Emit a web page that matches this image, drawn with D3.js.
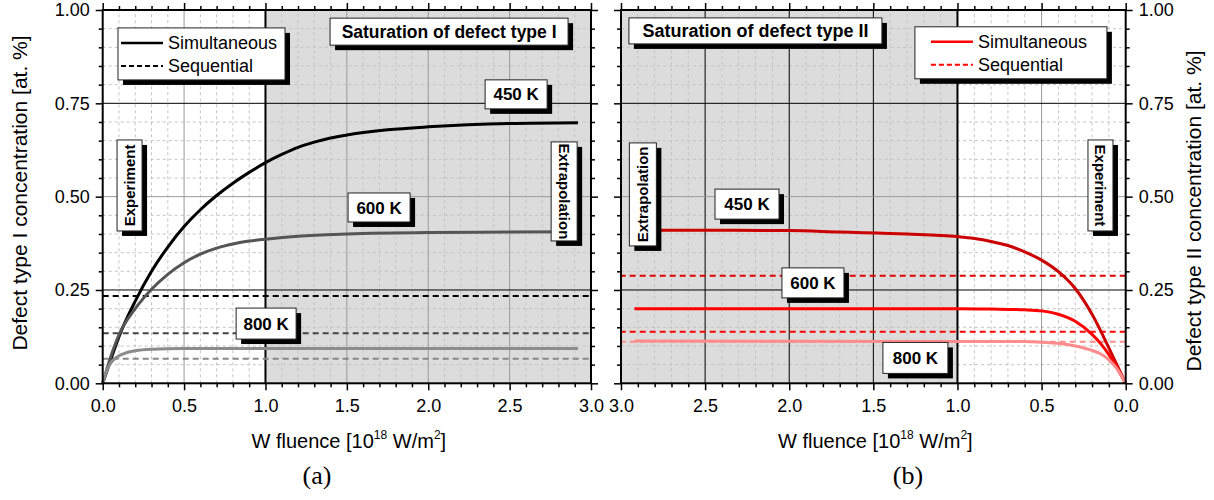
<!DOCTYPE html>
<html>
<head>
<meta charset="utf-8">
<script src="https://cdn.jsdelivr.net/npm/d3@7"></script>
<style>
  body { margin: 0; background: #fff; }
  text { font-family: "Liberation Sans", Arial, sans-serif; fill: #000; }
</style>
</head>
<body>
<div id="chart"></div>
<script>

// temperatures of the three runs
var temps = ["450 K", "600 K", "800 K"];

// panel (a): defect type I, simultaneous exposure  [fluence, concentration]
var simI_450 = [[0, 0], [0.05, 0.064], [0.1, 0.125], [0.2, 0.22], [0.3, 0.3], [0.4, 0.365], [0.5, 0.42],
  [0.6, 0.465], [0.7, 0.503], [0.8, 0.536], [0.9, 0.565], [1.0, 0.591], [1.1, 0.613], [1.2, 0.632],
  [1.3, 0.646], [1.4, 0.657], [1.5, 0.665], [1.75, 0.679], [2.0, 0.687], [2.5, 0.696], [2.92, 0.698]];
var simI_600 = [[0, 0], [0.05, 0.072], [0.1, 0.13], [0.2, 0.2], [0.3, 0.252], [0.4, 0.292], [0.5, 0.323],
  [0.6, 0.346], [0.7, 0.362], [0.8, 0.373], [0.9, 0.381], [1.0, 0.386], [1.2, 0.394], [1.5, 0.4],
  [2.0, 0.404], [2.5, 0.405], [2.92, 0.406]];
var simI_800 = [[0, 0], [0.02, 0.028], [0.045, 0.052], [0.08, 0.068], [0.127, 0.079], [0.2, 0.087],
  [0.3, 0.091], [0.5, 0.093], [0.8, 0.093], [2.92, 0.093]];
// sequential exposure: constant levels (450, 600, 800 K)
var seqI = [0.234, 0.134, 0.066];

// panel (b): defect type II, simultaneous exposure
var simII_450 = [[2.92, 0.41], [2.5, 0.41], [2.0, 0.409], [1.7, 0.405], [1.3, 0.4], [1.0, 0.393], [0.9, 0.388],
  [0.8, 0.38], [0.7, 0.369], [0.6, 0.352], [0.5, 0.33], [0.4, 0.299], [0.3, 0.254], [0.2, 0.185],
  [0.1, 0.095], [0.05, 0.047], [0, 0]];
var simII_600 = [[2.92, 0.2], [2.0, 0.2], [1.0, 0.2], [0.8, 0.199], [0.6, 0.197], [0.5, 0.194], [0.4, 0.185],
  [0.3, 0.166], [0.2, 0.131], [0.15, 0.107], [0.1, 0.077], [0.05, 0.04], [0, 0]];
var simII_800 = [[2.92, 0.113], [1.0, 0.112], [0.6, 0.112], [0.5, 0.11], [0.4, 0.107], [0.3, 0.1],
  [0.2, 0.088], [0.15, 0.079], [0.1, 0.063], [0.05, 0.038], [0, 0]];
var seqII = [0.288, 0.138, 0.111];

// axis ticks
var xTicks = [0, 0.5, 1.0, 1.5, 2.0, 2.5, 3.0];
var yTicks = [0, 0.25, 0.5, 0.75, 1.0];
var xMinor = d3.range(1, 30).filter(function (i) { return i % 5 != 0; }).map(function (i) { return i / 10; });
var yMinor = d3.range(1, 20).filter(function (i) { return i % 5 != 0; }).map(function (i) { return i / 20; });

var svg = d3.select("#chart")
  .append("svg")
  .attr("width", 1214)
  .attr("height", 500);

function shadowBox(g, cx, cy, w, h) {
  g.append("rect")
    .attr("x", cx - w / 2 + 5).attr("y", cy - h / 2 + 5)
    .attr("width", w).attr("height", h)
    .attr("fill", "#000");
  g.append("rect")
    .attr("x", cx - w / 2).attr("y", cy - h / 2)
    .attr("width", w).attr("height", h)
    .attr("fill", "#fff")
    .attr("stroke", "#222")
    .attr("stroke-width", 1);
}

function panel(o) {
  var x = d3.scaleLinear().domain(o.xDomain).range(o.xRange);
  var y = d3.scaleLinear().domain([0, 1]).range([383.3, 10]);
  var g = svg.append("g");
  var x0 = o.xRange[0], x1 = o.xRange[1];

  // shaded extrapolation region (fluence 1.0 - 3.0)
  g.append("rect")
    .attr("x", Math.min(x(1), x(3)))
    .attr("width", Math.abs(x(3) - x(1)))
    .attr("y", y(1))
    .attr("height", y(0) - y(1))
    .attr("fill", "#dcdcdc");

  // minor grid
  g.selectAll(".mgx").data(xMinor).enter().append("line")
    .attr("x1", x).attr("x2", x).attr("y1", y(0)).attr("y2", y(1))
    .attr("stroke", "#c4c4c4").attr("stroke-width", 1).attr("stroke-dasharray", "3,3");
  g.selectAll(".mgy").data(yMinor).enter().append("line")
    .attr("y1", y).attr("y2", y).attr("x1", x0).attr("x2", x1)
    .attr("stroke", "#c4c4c4").attr("stroke-width", 1).attr("stroke-dasharray", "3,3");

  // major grid
  g.selectAll(".gx").data([0.5, 1.5, 2.0, 2.5]).enter().append("line")
    .attr("x1", x).attr("x2", x).attr("y1", y(0)).attr("y2", y(1))
    .attr("stroke", function (d) { return d == 0.5 ? "#9a9a9a" : o.gridColor; })
    .attr("stroke-width", 1);
  g.selectAll(".gy").data([0.25, 0.5, 0.75]).enter().append("line")
    .attr("y1", y).attr("y2", y).attr("x1", x0).attr("x2", x1)
    .attr("stroke", function (d) { return d == 0.5 ? "#9a9a9a" : "#000"; })
    .attr("stroke-width", 1);

  // experiment / extrapolation boundary
  g.append("line")
    .attr("x1", x(1)).attr("x2", x(1)).attr("y1", y(0)).attr("y2", y(1))
    .attr("stroke", "#000").attr("stroke-width", 2);

  // sequential levels
  g.selectAll(".seq").data(o.seq).enter().append("line")
    .attr("x1", x(0)).attr("x2", x(3))
    .attr("y1", function (d) { return y(d); }).attr("y2", function (d) { return y(d); })
    .attr("stroke", function (d, i) { return o.seqColors[i]; })
    .attr("stroke-width", 2)
    .attr("stroke-dasharray", "6,4");

  // simultaneous curves
  var line = d3.line()
    .x(function (d) { return x(d[0]); })
    .y(function (d) { return y(d[1]); })
    .curve(d3.curveMonotoneX);

  g.selectAll(".sim").data(o.sim).enter().append("path")
    .attr("d", line)
    .attr("fill", "none")
    .attr("stroke", function (d, i) { return o.colors[i]; })
    .attr("stroke-width", 3);

  // axes: major ticks (labelled on one side), minor ticks everywhere
  g.append("g").attr("transform", "translate(0," + y(0) + ")")
    .call(d3.axisBottom(x).tickValues(xTicks).tickSize(7).tickSizeOuter(0).tickPadding(9).tickFormat(d3.format(".1f")));
  g.append("g").attr("transform", "translate(0," + y(0) + ")")
    .call(d3.axisBottom(x).tickValues(xMinor).tickSize(4).tickSizeOuter(0).tickFormat(""));
  g.append("g").attr("transform", "translate(0," + y(1) + ")")
    .call(d3.axisTop(x).tickValues(xTicks).tickSize(7).tickSizeOuter(0).tickFormat(""));
  g.append("g").attr("transform", "translate(0," + y(1) + ")")
    .call(d3.axisTop(x).tickValues(xMinor).tickSize(4).tickSizeOuter(0).tickFormat(""));

  var lab = o.labelSide == "left" ? d3.axisLeft : d3.axisRight;
  var other = o.labelSide == "left" ? d3.axisRight : d3.axisLeft;
  var labX = o.labelSide == "left" ? x0 : x1;
  var othX = o.labelSide == "left" ? x1 : x0;
  g.append("g").attr("transform", "translate(" + labX + ",0)")
    .call(lab(y).tickValues(yTicks).tickSize(7).tickSizeOuter(0).tickPadding(6).tickFormat(d3.format(".2f")));
  g.append("g").attr("transform", "translate(" + labX + ",0)")
    .call(lab(y).tickValues(yMinor).tickSize(4).tickSizeOuter(0).tickFormat(""));
  g.append("g").attr("transform", "translate(" + othX + ",0)")
    .call(other(y).tickValues(yTicks).tickSize(7).tickSizeOuter(0).tickFormat(""));
  g.append("g").attr("transform", "translate(" + othX + ",0)")
    .call(other(y).tickValues(yMinor).tickSize(4).tickSizeOuter(0).tickFormat(""));

  g.selectAll(".domain").remove();
  g.selectAll(".tick line").attr("stroke", "#000").attr("stroke-width", 1.5);
  g.selectAll(".tick text")
    .style("font-family", "'Liberation Sans', Arial, sans-serif")
    .style("font-size", "18px")
    .attr("fill", "#000");

  // frame
  g.append("rect")
    .attr("x", x0).attr("y", y(1))
    .attr("width", x1 - x0).attr("height", y(0) - y(1))
    .attr("fill", "none").attr("stroke", "#000").attr("stroke-width", 2);

  // legend
  var lx = x(o.legend[0]), lyy = y(o.legend[1]);
  shadowBox(g, lx + o.legend[2] / 2, lyy + 26, o.legend[2], 52);
  ["Simultaneous", "Sequential"].forEach(function (t, i) {
    g.append("line")
      .attr("x1", lx + o.legend[3]).attr("x2", lx + o.legend[3] + 42)
      .attr("y1", lyy + 15 + i * 23).attr("y2", lyy + 15 + i * 23)
      .attr("stroke", o.legendColor)
      .attr("stroke-width", i == 0 ? 2.5 : 2)
      .attr("stroke-dasharray", i == 0 ? null : "5,3");
    g.append("text")
      .attr("x", lx + o.legend[3] + 47).attr("y", lyy + 15 + i * 23)
      .attr("dy", "0.35em")
      .style("font-size", "18px")
      .text(t);
  });

  // boxed notes
  o.notes.forEach(function (n) {
    var cx = x(n.at[0]), cy = y(n.at[1]);
    shadowBox(g, cx, cy, n.w, n.h);
    g.append("text")
      .attr("transform", "translate(" + cx + "," + cy + ") rotate(" + (n.rot || 0) + ")")
      .attr("text-anchor", "middle")
      .attr("dy", "0.36em")
      .style("font-size", n.size + "px")
      .style("font-weight", "bold")
      .text(n.text);
  });

  // axis titles
  var xt = g.append("text")
    .attr("x", (x0 + x1) / 2 + 2).attr("y", 448)
    .attr("text-anchor", "middle")
    .style("font-size", "20px");
  xt.append("tspan").text("W fluence [10");
  xt.append("tspan").attr("dy", -9).style("font-size", "12px").text("18");
  xt.append("tspan").attr("dy", 9).text(" W/m");
  xt.append("tspan").attr("dy", -9).style("font-size", "12px").text("2");
  xt.append("tspan").attr("dy", 9).text("]");

  g.append("text")
    .attr("transform", "translate(" + o.yTitle[0] + "," + o.yTitle[1] + ") rotate(-90)")
    .attr("text-anchor", "middle")
    .style("font-size", "21px")
    .text(o.yTitle[2]);

  g.append("text")
    .attr("x", o.caption[0]).attr("y", 484)
    .attr("text-anchor", "middle")
    .style("font-family", "'Liberation Serif', 'Times New Roman', serif")
    .style("font-size", "26px")
    .text(o.caption[1]);
}

panel({
  xDomain: [0, 3], xRange: [102.7, 591],
  gridColor: "#9a9a9a",
  sim: [simI_450, simI_600, simI_800],
  colors: ["#000", "#555", "#8c8c8c"],
  seq: seqI,
  seqColors: ["#000", "#444", "#888"],
  labelSide: "left",
  legend: [0.094, 0.952, 167, 3],
  legendColor: "#000",
  notes: [
    { text: "Saturation of defect type I", at: [2.128, 0.942], w: 238, h: 27, size: 17.5 },
    { text: temps[0], at: [2.54, 0.774], w: 62, h: 29, size: 17 },
    { text: temps[1], at: [1.698, 0.471], w: 62, h: 29, size: 17 },
    { text: temps[2], at: [1.004, 0.160], w: 60, h: 31, size: 17 },
    { text: "Experiment", at: [0.165, 0.53], w: 25, h: 91, size: 15, rot: -90 },
    { text: "Extrapolation", at: [2.835, 0.514], w: 26, h: 99, size: 15, rot: 90 }
  ],
  yTitle: [27, 193, "Defect type I concentration [at. %]"],
  caption: [317, "(a)"]
});

panel({
  xDomain: [3, 0], xRange: [621, 1125.7],
  gridColor: "#000",
  sim: [simII_450, simII_600, simII_800],
  colors: ["#cc0000", "#ff0000", "#ff8c8c"],
  seq: seqII,
  seqColors: ["#dd0000", "#ff0000", "#ff8c8c"],
  labelSide: "right",
  legend: [1.253, 0.955, 192, 16],
  legendColor: "#ff0000",
  notes: [
    { text: "Saturation of defect type II", at: [2.201, 0.944], w: 253, h: 26, size: 18 },
    { text: temps[0], at: [2.251, 0.48], w: 64, h: 30, size: 17 },
    { text: temps[1], at: [1.859, 0.269], w: 62, h: 30, size: 17 },
    { text: temps[2], at: [1.25, 0.068], w: 65, h: 31, size: 17 },
    { text: "Experiment", at: [0.15, 0.53], w: 25, h: 91, size: 15, rot: 90 },
    { text: "Extrapolation", at: [2.87, 0.506], w: 27, h: 103, size: 15, rot: -90 }
  ],
  yTitle: [1201, 211, "Defect type II concentration [at. %]"],
  caption: [908, "(b)"]
});

</script>
</body>
</html>
